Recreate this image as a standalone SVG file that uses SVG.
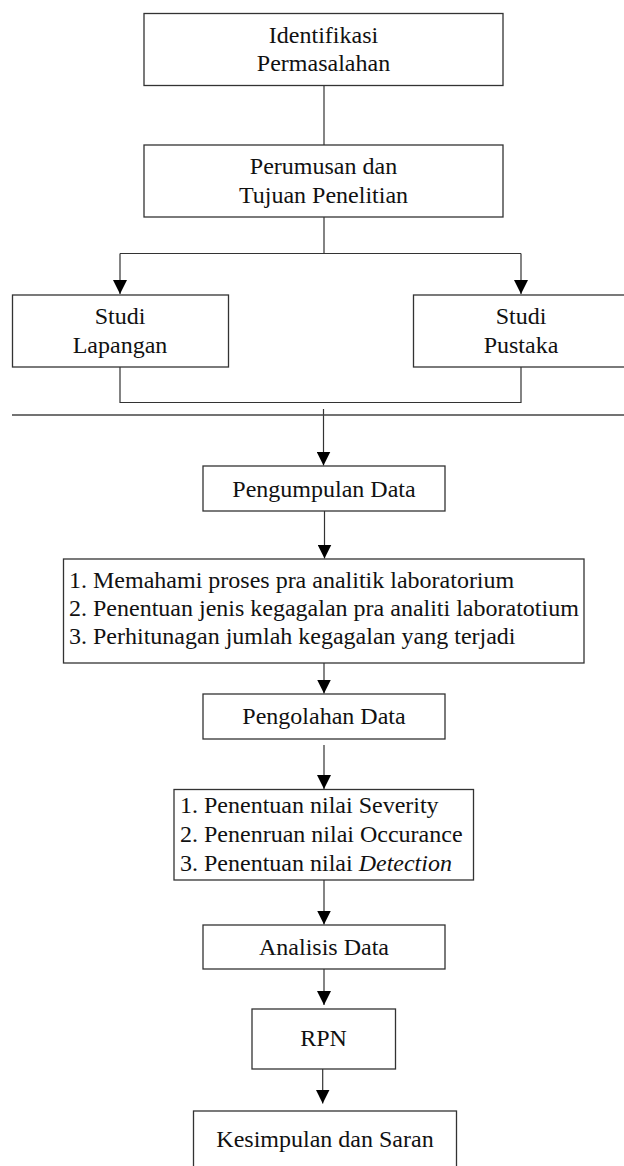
<svg xmlns="http://www.w3.org/2000/svg" width="624" height="1166" viewBox="0 0 624 1166">
<style>
  .box { fill: #ffffff; stroke: #333333; stroke-width: 1.3; }
  .t { font-family: "Liberation Serif", "Times New Roman", serif; font-size: 24px; fill: #111111; }
  .c { text-anchor: middle; }
  .ln { fill: none; stroke: #333333; stroke-width: 1.2; }
</style>
<defs>
  <marker id="ah" markerUnits="userSpaceOnUse" viewBox="0 0 14 14" markerWidth="14" markerHeight="14" refX="14" refY="7" orient="auto">
    <path d="M0,0 L14,7 L0,14 Z" fill="#000000"/>
  </marker>
</defs>
<rect width="624" height="1166" fill="#ffffff"/>

<g id="connectors">
  <path class="ln" d="M324,85.5 V145"/>
  <path class="ln" d="M324,217 V253.5 M120,253.5 H521"/>
  <path class="ln" d="M120,253.5 V294" marker-end="url(#ah)"/>
  <path class="ln" d="M521,253.5 V294" marker-end="url(#ah)"/>
  <path class="ln" d="M120,367 V402.5 H521 V367"/>
  <path class="ln" d="M323.5,409 V465.5" marker-end="url(#ah)"/>
  <path class="ln" d="M324.5,511 V558.5" marker-end="url(#ah)"/>
  <path class="ln" d="M324,656 V693.5" marker-end="url(#ah)"/>
  <path class="ln" d="M324,745 V789" marker-end="url(#ah)"/>
  <path class="ln" d="M324,873 V924.5" marker-end="url(#ah)"/>
  <path class="ln" d="M324,969 V1005" marker-end="url(#ah)"/>
  <path class="ln" d="M322.7,1069 V1103.5" marker-end="url(#ah)"/>
</g>

<g id="separator">
  <line x1="12" y1="415" x2="624" y2="415" stroke="#444444" stroke-width="1.3"/>
</g>

<g id="n1">
  <rect class="box" x="144" y="13.5" width="359" height="72"/>
  <text class="t c" x="323.5" y="42.5">Identifikasi</text>
  <text class="t c" x="323.5" y="71">Permasalahan</text>
</g>
<g id="n2">
  <rect class="box" x="144" y="145" width="359" height="72"/>
  <text class="t c" x="323.5" y="174">Perumusan dan</text>
  <text class="t c" x="323.5" y="203">Tujuan Penelitian</text>
</g>
<g id="n3">
  <rect class="box" x="12.5" y="295" width="216" height="72"/>
  <text class="t c" x="120" y="324">Studi</text>
  <text class="t c" x="120" y="353">Lapangan</text>
</g>
<g id="n4">
  <rect class="box" x="413.5" y="295" width="216" height="72"/>
  <text class="t c" x="521" y="324">Studi</text>
  <text class="t c" x="521" y="353">Pustaka</text>
</g>
<g id="n5">
  <rect class="box" x="203" y="466" width="242" height="45"/>
  <text class="t c" x="324" y="497">Pengumpulan Data</text>
</g>
<g id="n6">
  <rect class="box" x="63.5" y="559" width="520.5" height="104"/>
  <text class="t" x="69" y="588">1. Memahami proses pra analitik laboratorium</text>
  <text class="t" x="69" y="616">2. Penentuan jenis kegagalan pra analiti laboratotium</text>
  <text class="t" x="69" y="644">3. Perhitunagan jumlah kegagalan yang terjadi</text>
</g>
<g id="n7">
  <rect class="box" x="203" y="694" width="242" height="45"/>
  <text class="t c" x="324" y="724">Pengolahan Data</text>
</g>
<g id="n8">
  <rect class="box" x="174" y="789.5" width="299.5" height="90.5"/>
  <text class="t" x="180" y="812.5">1. Penentuan nilai Severity</text>
  <text class="t" x="180" y="842">2. Penenruan nilai Occurance</text>
  <text class="t" x="180" y="871">3. Penentuan nilai <tspan font-style="italic">Detection</tspan></text>
</g>
<g id="n9">
  <rect class="box" x="203" y="925" width="242" height="44"/>
  <text class="t c" x="324" y="955">Analisis Data</text>
</g>
<g id="n10">
  <rect class="box" x="252" y="1009" width="143.5" height="60"/>
  <text class="t c" x="323.5" y="1046">RPN</text>
</g>
<g id="n11">
  <rect class="box" x="193.5" y="1111" width="263" height="80"/>
  <text class="t c" x="325" y="1147">Kesimpulan dan Saran</text>
</g>
</svg>
